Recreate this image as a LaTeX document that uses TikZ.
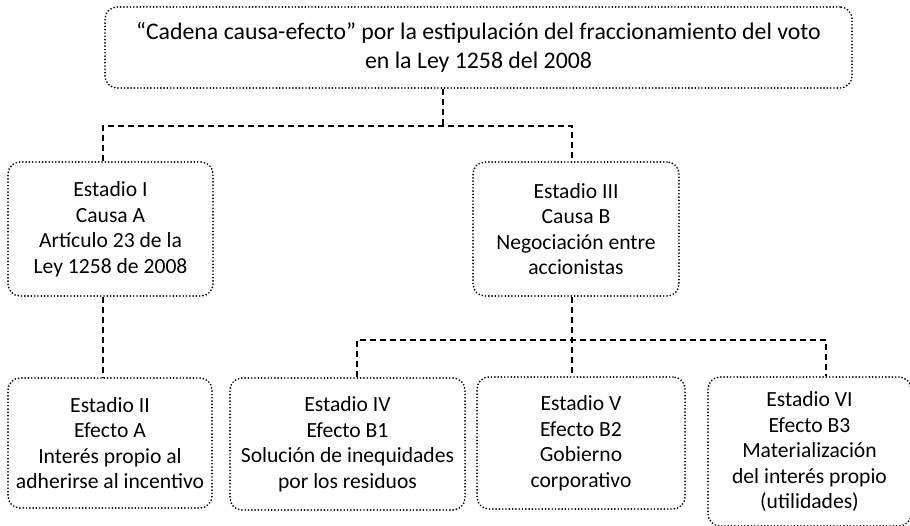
\documentclass[tikz,border=0pt]{standalone}
\usepackage{fontspec}
\setmainfont{Carlito}
\usepackage{tikz}
\usetikzlibrary{positioning, calc}

\begin{document}
\begin{tikzpicture}[
    stagebox/.style={rectangle, rounded corners=12pt, draw=black, line width=1.9pt,
        dash pattern=on 0pt off 3.3pt, line cap=round, align=center,
        font=\fontsize{21.6}{25.5}\selectfont, inner sep=0pt},
    linkline/.style={draw=black, line width=1.7pt, dash pattern=on 6pt off 4pt},
]
\useasboundingbox (0pt,0pt) rectangle (910pt,-526pt);
% titulo
\node[stagebox, minimum width=747pt, minimum height=81pt,
    font=\fontsize{23.8}{29.5}\selectfont](top) at (478.5pt,-47.5pt)
    {``Cadena causa-efecto'' por la estipulación del fraccionamiento del voto\\en la Ley 1258 del 2008};
% causas
\node[stagebox, minimum width=205pt, minimum height=134pt](e1) at (110.5pt,-229pt)
    {Estadio I\\Causa A\\Artículo 23 de la\\Ley 1258 de 2008};
\node[stagebox, minimum width=206pt, minimum height=134pt](e3) at (576pt,-229pt)
    {Estadio III\\Causa B\\Negociación entre\\accionistas};
% efectos
\node[stagebox, minimum width=204pt, minimum height=130pt](e2) at (110pt,-443pt)
    {Estadio II\\Efecto A\\Interés propio al\\adherirse al incentivo};
\node[stagebox, minimum width=235pt, minimum height=132pt](e4) at (347.5pt,-444pt)
    {Estadio IV\\Efecto B1\\Solución de inequidades\\por los residuos};
\node[stagebox, minimum width=208pt, minimum height=132pt](e5) at (581pt,-443pt)
    {Estadio V\\Efecto B2\\Gobierno\\corporativo};
\node[stagebox, minimum width=203pt, minimum height=149pt](e6) at (809.5pt,-451.5pt)
    {Estadio VI\\Efecto B3\\Materialización\\del interés propio\\(utilidades)};
% conectores
\coordinate (tj) at (443pt,-126pt);
\coordinate (bj) at (572pt,-340pt);
\draw[linkline] (top.south -| tj) -- (tj);
\draw[linkline] ([xshift=-7.5pt]e1.north) |- (tj) -| ([xshift=-4pt]e3.north);
\draw[linkline] ([xshift=-7.5pt]e1.south) -- ([xshift=-7pt]e2.north);
\draw[linkline] ([xshift=-4pt]e3.south) -- ([xshift=-9pt]e5.north);
\draw[linkline] ([xshift=9.5pt]e4.north) |- (bj) -| ([xshift=16.5pt]e6.north);
\end{tikzpicture}
\end{document}
